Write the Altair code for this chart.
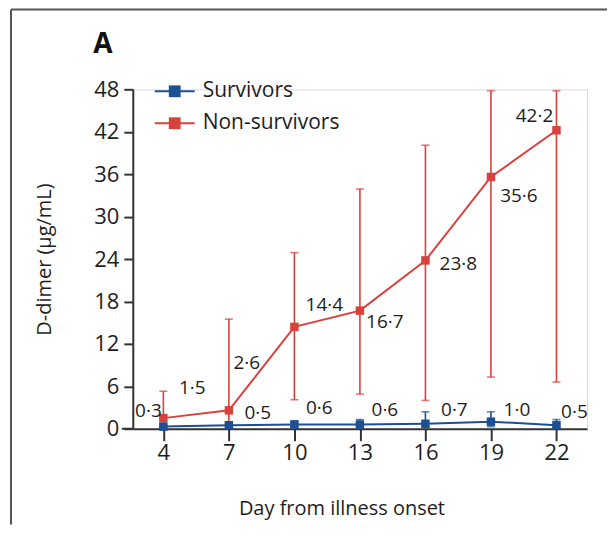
import altair as alt
import pandas as pd

# ---- data ----
days = [4, 7, 10, 13, 16, 19, 22]
series_names = ["Survivors", "Non-survivors"]

surv_mean = [0.3, 0.5, 0.6, 0.6, 0.7, 1.0, 0.5]
surv_lo = [0.1, 0.2, 0.2, 0.2, 0.2, 0.3, 0.2]
surv_hi = [0.5, 0.8, 1.1, 1.3, 2.4, 2.4, 1.3]
surv_labels = ["0·3", "0·5", "0·6", "0·6", "0·7", "1·0", "0·5"]

non_mean = [1.5, 2.6, 14.4, 16.7, 23.8, 35.6, 42.2]
non_lo = [0.3, 0.4, 4.1, 4.9, 4.0, 7.3, 6.6]
non_hi = [5.3, 15.5, 24.9, 33.9, 40.1, 47.8, 47.8]
non_labels = ["1·5", "2·6", "14·4", "16·7", "23·8", "35·6", "42·2"]

y_ticks = [0, 6, 12, 18, 24, 30, 36, 42, 48]
x_ticks = days

# ---- styles ----
RED = "#d9423c"
BLUE = "#1d4f94"
TXT = "#1e1e1e"
FONT = "Open Sans"
W, H = 455, 340
PAD_BOTTOM = 96
PAD_RIGHT = 20

# label offsets (pixels) relative to each point
non_dx = [29, 18, 30, 25, 33, 28, -22]
non_dy = [-30, -47, -22, 11, 4, 19, -14]
surv_dx = [-15, 29, 25, 25, 29, 26, 18]
surv_dy = [-16, -12, -17, -15, -14, -12, -13]

surv = pd.DataFrame({"day": days, "mean": surv_mean, "lo": surv_lo, "hi": surv_hi, "label": surv_labels})
non = pd.DataFrame({"day": days, "mean": non_mean, "lo": non_lo, "hi": non_hi, "label": non_labels})

x_enc = alt.X(
    "day:Q",
    scale=alt.Scale(domain=[2.6, 23.4], nice=False, zero=False),
    axis=alt.Axis(
        values=x_ticks, title="Day from illness onset", grid=False,
        domainColor="#333333", domainWidth=2, tickColor="#333333", tickWidth=2,
        tickSize=12, labelPadding=2, labelFontSize=22, labelColor=TXT, labelFont=FONT,
        titleFont=FONT, titleFontSize=20, titleFontWeight="normal", titleColor=TXT,
        titleX=209, titleY=80, titleBaseline="middle", titleAnchor="start", titleAlign="center",
    ),
)
y_enc = alt.Y(
    "mean:Q",
    scale=alt.Scale(domain=[0, 48], nice=False),
    axis=alt.Axis(
        values=y_ticks, title="D-dimer (µg/mL)", grid=False,
        domainColor="#333333", domainWidth=2, tickColor="#333333", tickWidth=2,
        tickSize=9, labelPadding=5, labelFontSize=22, labelColor=TXT, labelFont=FONT,
        titleFont=FONT, titleFontSize=20, titleFontWeight="normal", titleColor=TXT,
        titleX=-88, titleY=170, titleAngle=-90, titleBaseline="middle", titleAlign="center",
    ),
)


def series_layers(df, color, dxs, dys):
    base = alt.Chart(df)
    err = base.mark_rule(color=color, strokeWidth=1.6).encode(
        x=alt.X("day:Q"), y=alt.Y("lo:Q"), y2="hi:Q")
    cap_hi = base.mark_tick(color=color, orient="horizontal", size=8, thickness=1.6).encode(
        x=alt.X("day:Q"), y=alt.Y("hi:Q"))
    cap_lo = base.mark_tick(color=color, orient="horizontal", size=8, thickness=1.6).encode(
        x=alt.X("day:Q"), y=alt.Y("lo:Q"))
    line = base.mark_line(color=color, strokeWidth=2).encode(x=x_enc, y=y_enc)
    pts = base.mark_square(color=color, size=72, opacity=1).encode(x=alt.X("day:Q"), y=alt.Y("mean:Q"))
    labels = []
    for i, d in enumerate(days):
        labels.append(
            base.transform_filter(alt.datum.day == d)
            .mark_text(font=FONT, fontSize=19, color=TXT, align="center", baseline="middle",
                       dx=dxs[i], dy=dys[i])
            .encode(x=alt.X("day:Q"), y=alt.Y("mean:Q"), text="label:N")
        )
    return [err, cap_hi, cap_lo, line, pts] + labels


# frame and decorations (pixel positions)
frame_left = alt.Chart().mark_rule(color="#555555", strokeWidth=2).encode(
    x=alt.value(-122), y=alt.value(-80), y2=alt.value(H + PAD_BOTTOM))
frame_top = alt.Chart().mark_rule(color="#555555", strokeWidth=2).encode(
    x=alt.value(-122), x2=alt.value(W + PAD_RIGHT), y=alt.value(-80), y2=alt.value(-80))
x_ext = alt.Chart().mark_rule(color="#333333", strokeWidth=2).encode(
    x=alt.value(-11), x2=alt.value(0), y=alt.value(H), y2=alt.value(H))
panel = alt.Chart().mark_text(font=FONT, fontSize=28, fontWeight="bold", color="#111111",
                              align="center", baseline="middle").encode(
    x=alt.value(-30), y=alt.value(-44), text=alt.value("A"))

# legend
legend_layers = []
for name, color, ly in [(series_names[0], BLUE, 2), (series_names[1], RED, 34)]:
    legend_layers.append(alt.Chart().mark_rule(color=color, strokeWidth=2).encode(
        x=alt.value(22), x2=alt.value(62), y=alt.value(ly), y2=alt.value(ly)))
    legend_layers.append(alt.Chart().mark_square(color=color, size=140, opacity=1).encode(
        x=alt.value(42), y=alt.value(ly)))
    legend_layers.append(alt.Chart().mark_text(font=FONT, fontSize=21, color=TXT, align="left",
                                               baseline="middle").encode(
        x=alt.value(70), y=alt.value(ly), text=alt.value(name)))

layers = (
    [frame_left, frame_top, x_ext]
    + series_layers(non, RED, non_dx, non_dy)
    + series_layers(surv, BLUE, surv_dx, surv_dy)
    + legend_layers
    + [panel]
)

chart = alt.layer(*layers).properties(
    width=W, height=H,
    autosize=alt.AutoSizeParams(type="none"),
    padding={"left": 125, "top": 81, "right": PAD_RIGHT, "bottom": PAD_BOTTOM},
).configure_view(stroke=None).configure(background="white")

chart.save("out.html", embed_options={"renderer": "svg", "actions": False})
